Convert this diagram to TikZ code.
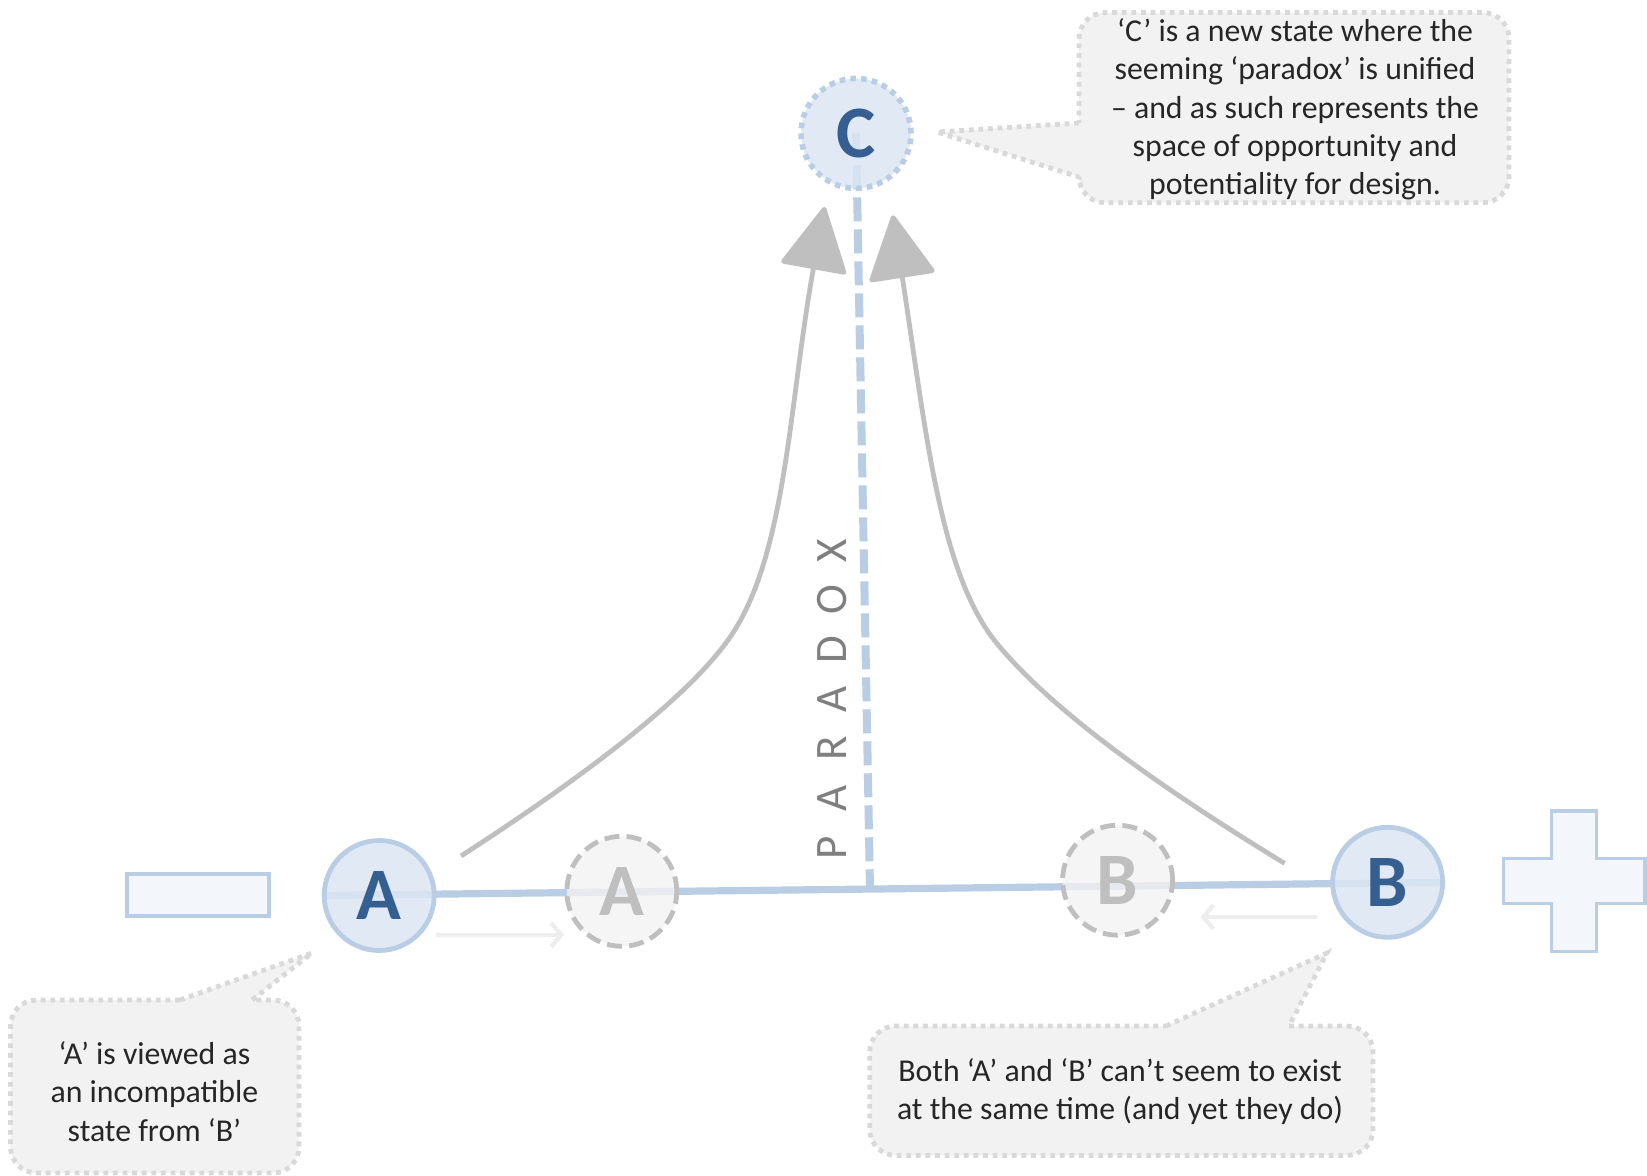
\documentclass[tikz,border=0pt]{standalone}
\usepackage{fontspec}
\setmainfont{Carlito}
\usetikzlibrary{arrows.meta}
\definecolor{blueline}{HTML}{B9CDE5}
\definecolor{circfill}{HTML}{DCE6F2}
\definecolor{letterblue}{HTML}{365F91}
\definecolor{arrowgray}{HTML}{BFBFBF}
\definecolor{ghostfill}{HTML}{F2F2F2}
\definecolor{ghostline}{HTML}{BFBFBF}
\definecolor{calloutfill}{HTML}{F2F2F2}
\definecolor{calloutline}{HTML}{D9D9D9}
\definecolor{textcol}{HTML}{262626}
\definecolor{paradoxcol}{HTML}{7F7F7F}
\definecolor{signfill}{HTML}{F3F6FB}
\definecolor{faint}{HTML}{EEEEEE}
\pgfdeclarelayer{bg}
\pgfdeclarelayer{lines}
\pgfsetlayers{bg,lines,main}
\newcommand{\pl}[1]{\makebox[24.75pt]{#1}}
\begin{document}
\begin{tikzpicture}[x=0.5pt,y=-0.5pt,
  bigletter/.style={font=\fontsize{37}{40}\selectfont\bfseries},
  maincirc/.style={circle, draw=blueline, line width=2.4pt, fill=circfill, fill opacity=0.85, text opacity=1, minimum size=55pt, inner sep=0pt, text=letterblue, bigletter},
  ghostcirc/.style={circle, draw=ghostline, line width=2.4pt, dash pattern=on 7.5pt off 3.6pt, fill=ghostfill, fill opacity=0.8, text opacity=1, minimum size=55pt, inner sep=0pt, text=ghostline, bigletter},
  ccirc/.style={circle, draw=blueline, line width=2.8pt, dash pattern=on 2.8pt off 2.6pt, fill=circfill, fill opacity=0.85, text opacity=1, minimum size=55pt, inner sep=0pt, text=letterblue, bigletter},
  callout/.style={fill=calloutfill, draw=calloutline, line width=2.4pt, dash pattern=on 2.4pt off 2.4pt},
  calltext/.style={align=center, text=textcol, font=\fontsize{15.9}{19.2}\selectfont, inner sep=0pt},
  hline/.style={draw=blueline, line width=3.6pt},
  vline/.style={draw=blueline, line width=4pt, dash pattern=on 12pt off 4pt},
  grayarrow/.style={draw=arrowgray, line width=2.4pt, -{Triangle[length=33pt,width=34pt,round]}},
  smallarrow/.style={draw=faint, line width=2.2pt, -{Straight Barb[length=5pt,width=12pt]}},
  signbox/.style={draw=blueline, line width=1.6pt, fill=signfill}
]
\useasboundingbox (0,0) rectangle (1647,1176);

% circles
\node[maincirc] (A) at (379.2,895.5) {A};
\node[ghostcirc] (gA) at (621.8,891.3) {A};
\node[ghostcirc] (gB) at (1117.6,880.2) {B};
\node[maincirc] (B) at (1387.6,882.3) {B};
\node[ccirc] (C) at (856,133.4) {C};

% minus and plus
\node[signbox, minimum width=71pt, minimum height=21pt, inner sep=0pt] (minus) at (198,895) {};
\path[signbox] (1551.4,810.9) -- (1596.6,810.9) -- (1596.6,858.2) -- (1645,858.2) -- (1645,903.3) -- (1596.6,903.3) -- (1596.6,951.7) -- (1551.4,951.7) -- (1551.4,903.3) -- (1503.1,903.3) -- (1503.1,858.2) -- (1551.4,858.2) -- cycle;

% coordinates
\coordinate (base) at (870,888.7);
\coordinate (la) at (461,856);
\coordinate (lm) at (729.5,638);
\coordinate (lt) at (824.6,207);
\coordinate (ra) at (1284.6,863.4);
\coordinate (rm) at (996.7,643.2);
\coordinate (rt) at (892.8,215.3);
\coordinate (sa1) at (436,934.9);
\coordinate (sa2) at (564,934.9);
\coordinate (sb1) at (1317.2,917);
\coordinate (sb2) at (1200.6,917);

% lines behind the circles
\begin{pgfonlayer}{lines}
\draw[hline] (A.west) -- (B.east);
\draw[vline] (C.center) -- (base);
\end{pgfonlayer}

% callouts
\begin{pgfonlayer}{bg}
\draw[callout] (1079,123) -- (937,132) -- (1079,177) [rounded corners=13pt] -- (1079,202.7) -- (1509,202.7) -- (1509,12.6) -- (1079,12.6) [sharp corners] -- cycle;
\draw[callout] (180,1000) -- (312,953) -- (252,1000) [rounded corners=13pt] -- (299,1000) -- (299,1173) -- (10.5,1173) -- (10.5,1000) [sharp corners] -- cycle;
\draw[callout] (1166,1026) -- (1327,953) -- (1289,1026) [rounded corners=13pt] -- (1373,1026) -- (1373,1155.4) -- (869.7,1155.4) -- (869.7,1026) [sharp corners] -- cycle;
\end{pgfonlayer}

% gray curved arrows
\draw[grayarrow] (la) .. controls (536.6,807.1) and (678,711.8) .. (lm) .. controls (786.7,556) and (788.8,403.8) .. (lt);
\draw[grayarrow] (ra) .. controls (1190.8,806.1) and (1060,720.6) .. (rm) .. controls (939.7,573.5) and (926.2,432.7) .. (rt);

% small arrows
\draw[smallarrow] (sa1) -- (sa2);
\draw[smallarrow] (sb1) -- (sb2);

% paradox label
\node[rotate=90, inner sep=0pt, text=paradoxcol, font=\fontsize{22.5}{24}\selectfont] (paradox) at (832,699) {\pl{P}\pl{A}\pl{R}\pl{A}\pl{D}\pl{O}\pl{X}};

% callout texts
\node[calltext] (tC) at (1295,109.3) {‘C’ is a new state where the\\seeming ‘paradox’ is unified\\– and as such represents the\\space of opportunity and\\potentiality for design.};
\node[calltext] (tA) at (154.4,1091.4) {‘A’ is viewed as\\an incompatible\\state from ‘B’};
\node[calltext] (tAB) at (1120,1091.4) {Both ‘A’ and ‘B’ can’t seem to exist\\at the same time (and yet they do)};
\end{tikzpicture}
\end{document}
